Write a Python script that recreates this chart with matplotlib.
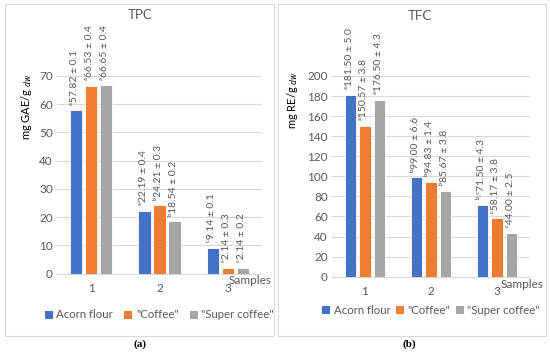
import matplotlib
matplotlib.use('Agg')
import matplotlib.pyplot as plt
from matplotlib.patches import Rectangle, Patch
import numpy as np

plt.rcParams['font.family'] = ['Lato', 'DejaVu Sans']

samples = ['1', '2', '3']
series = ['Acorn flour', '"Coffee"', '"Super coffee"']
colors = ['#4472C4', '#ED7D31', '#A5A5A5']

tpc_acorn = [57.82, 22.19, 9.14]
tpc_coffee = [66.53, 24.21, 2.14]
tpc_super = [66.65, 18.54, 2.14]
tpc_labels = [
    ['ᵃ57.82 ± 0.1', 'ᵃ22.19 ± 0.4', 'ᶜ9.14 ± 0.1'],
    ['ᵃ66.53 ± 0.4', 'ᵇ24.21 ± 0.3', 'ᶜ2.14 ± 0.3'],
    ['ᵃ66.65 ± 0.4', 'ᵇ18.54 ± 0.2', 'ᶜ2.14 ± 0.2'],
]

tfc_acorn = [181.50, 99.00, 71.50]
tfc_coffee = [150.57, 94.83, 58.17]
tfc_super = [176.50, 85.67, 44.00]
tfc_labels = [
    ['ᵃ181.50 ± 5.0', 'ᵇ99.00 ± 6.6', 'ᵇ˒ᶜ71.50 ± 4.3'],
    ['ᵃ150.57 ± 3.8', 'ᵇ94.83 ± 1.4', 'ᶜ58.17 ± 3.8'],
    ['ᵃ176.50 ± 4.3', 'ᵇ85.67 ± 3.8', 'ᶜ44.00 ± 2.5'],
]

W, H = 550, 354
fig = plt.figure(figsize=(W / 100, H / 100), dpi=100)

text_col = '#595959'
grid_col = '#D9D9D9'


def px(x0, y0, x1, y1):
    # pixel box (from top-left) -> figure rect
    return [x0 / W, 1 - y1 / H, (x1 - x0) / W, (y1 - y0) / H]


def panel(rect, data, labels, ymax, ystep, title, ylabel, title_xy, ylab_xy, leg_y, samp_xy, colsp):
    ax = fig.add_axes(rect)
    x = np.arange(len(samples))
    width = 0.18
    gap = 0.04
    for i, (vals, c) in enumerate(zip(data, colors)):
        pos = x + (i - 1) * (width + gap)
        ax.bar(pos, vals, width, color=c, edgecolor='white', linewidth=0.6, zorder=3)
        for p, v, lab in zip(pos, vals, labels[i]):
            ax.annotate(lab, (p, v), xytext=(-1, 4), textcoords='offset points',
                        rotation=90, ha='center', va='bottom', fontsize=7.5,
                        color=text_col, family=['Lato', 'DejaVu Sans'])
    ax.set_xlim(-0.5, 2.5)
    ax.set_ylim(0, ymax)
    ax.set_yticks(np.arange(0, ymax + 1, ystep))
    ax.set_xticks(x)
    ax.set_xticklabels(samples)
    ax.tick_params(length=0, labelsize=8.5, colors=text_col)
    ax.tick_params(axis='y', pad=3)
    ax.tick_params(axis='x', pad=7)
    ax.grid(axis='y', color=grid_col, linewidth=0.8, zorder=0)
    for s in ['top', 'right', 'left']:
        ax.spines[s].set_visible(False)
    ax.spines['bottom'].set_color(grid_col)
    ax.set_facecolor('none')

    fig.text(title_xy[0] / W, 1 - title_xy[1] / H, title, ha='center', va='center',
             fontsize=9.5, color=text_col)
    fig.text(ylab_xy[0] / W, 1 - ylab_xy[1] / H, ylabel, rotation=90, ha='center',
             va='center', fontsize=8, color='black')
    fig.text(samp_xy[0] / W, 1 - samp_xy[1] / H, 'Samples', ha='center', va='center',
             fontsize=8.5, color=text_col)
    handles = [Patch(facecolor=c) for c in colors]
    cx = (rect[0] + rect[0] + rect[2]) / 2
    fig.legend(handles, series, loc='center', bbox_to_anchor=(cx, 1 - leg_y / H),
               ncol=3, frameon=False, fontsize=8.2, handlelength=0.7, handleheight=0.7,
               handletextpad=0.3, columnspacing=colsp, labelcolor=text_col)
    return ax


panel(px(57, 76, 262, 273.7), [tpc_acorn, tpc_coffee, tpc_super], tpc_labels,
      70, 10, 'TPC', r'mg GAE/g $_{dw}$', (140, 15), (27, 107), 315, (250, 280), 1.0)
panel(px(332, 76, 530, 276.7), [tfc_acorn, tfc_coffee, tfc_super], tfc_labels,
      200, 20, 'TFC', r'mg RE/g $_{dw}$', (420, 16), (293, 100), 310, (522, 284), 0.5)

for x0, x1 in [(5, 274), (278, 546)]:
    fig.patches.append(Rectangle((x0 / W, 1 - 336 / H), (x1 - x0) / W, (336 - 4) / H,
                                 transform=fig.transFigure, fill=False,
                                 edgecolor=grid_col, linewidth=0.8))

fig.text(140 / W, 1 - 344 / H, '(a)', ha='center', va='center', fontsize=8,
         fontweight='bold', family='Liberation Serif')
fig.text(409 / W, 1 - 344 / H, '(b)', ha='center', va='center', fontsize=8,
         fontweight='bold', family='Liberation Serif')

fig.savefig('out.png', dpi=100)
